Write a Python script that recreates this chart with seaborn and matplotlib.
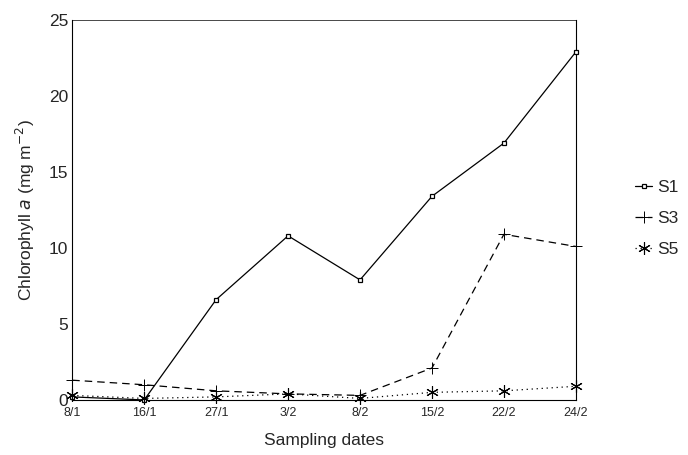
import matplotlib
matplotlib.use("Agg")
import matplotlib.pyplot as plt
import seaborn as sns
import pandas as pd
import numpy as np

dates = ["8/1", "16/1", "27/1", "3/2", "8/2", "15/2", "22/2", "24/2"]
s1 = [0.2, 0.0, 6.6, 10.8, 7.9, 13.4, 16.9, 22.9]
s3 = [1.3, 1.0, 0.6, 0.4, 0.3, 2.1, 10.9, 10.1]
s5 = [0.3, 0.1, 0.2, 0.4, 0.1, 0.5, 0.6, 0.9]
series_names = ["S1", "S3", "S5"]

sns.set_style("white")
plt.rcParams['font.family'] = ['Liberation Sans', 'DejaVu Sans']

idx = np.arange(len(dates))
df = pd.DataFrame({
    "idx": np.concatenate([idx, idx, idx]),
    "value": s1 + s3 + s5,
    "series": sum([[n] * len(dates) for n in series_names], []),
})

fig = plt.figure(figsize=(6.88, 4.55), dpi=100)
ax = fig.add_axes([0.105, 0.121, 0.732, 0.835])

styles = {
    "S1": dict(ls="-", marker="s", ms=2.6, mfc="white", mew=0.9),
    "S3": dict(ls=(0, (6, 4)), marker="+", ms=9, mew=0.7),
    "S5": dict(ls=(0, (1, 3)), marker=(6, 2, 0), ms=9, mew=0.8),
}
for name in series_names:
    st = styles[name]
    sns.lineplot(data=df[df.series == name], x="idx", y="value", ax=ax,
                 color="black", lw=0.9, linestyle=st["ls"], marker=st["marker"],
                 markersize=st["ms"], markerfacecolor=st.get("mfc", "black"),
                 markeredgecolor="black", markeredgewidth=st["mew"],
                 label=name, clip_on=False, zorder=3)

ax.set_xlim(0, 7)
ax.set_ylim(0, 25)
ax.set_xticks(idx)
ax.set_xticklabels(dates, fontsize=9)
ax.set_yticks([0, 5, 10, 15, 20, 25])
ax.tick_params(axis="y", labelsize=12.5, length=0, pad=3)
ax.tick_params(axis="x", length=0, pad=5)
ax.set_xlabel("Sampling dates", fontsize=12.5, labelpad=10)
ax.set_ylabel("Chlorophyll $\\mathit{a}$ (mg m$^{-2}$)", fontsize=12.5, labelpad=8)
for sp in ax.spines.values():
    sp.set_color("black")
    sp.set_linewidth(0.8)
ax.spines["top"].set_linewidth(0.5)

leg = ax.legend(loc="center left", bbox_to_anchor=(0.9, 0.52), bbox_transform=fig.transFigure,
                frameon=False, fontsize=12.5, handlelength=1.0, handletextpad=0.3,
                labelspacing=0.9)

fig.savefig("out.png", dpi=100)
